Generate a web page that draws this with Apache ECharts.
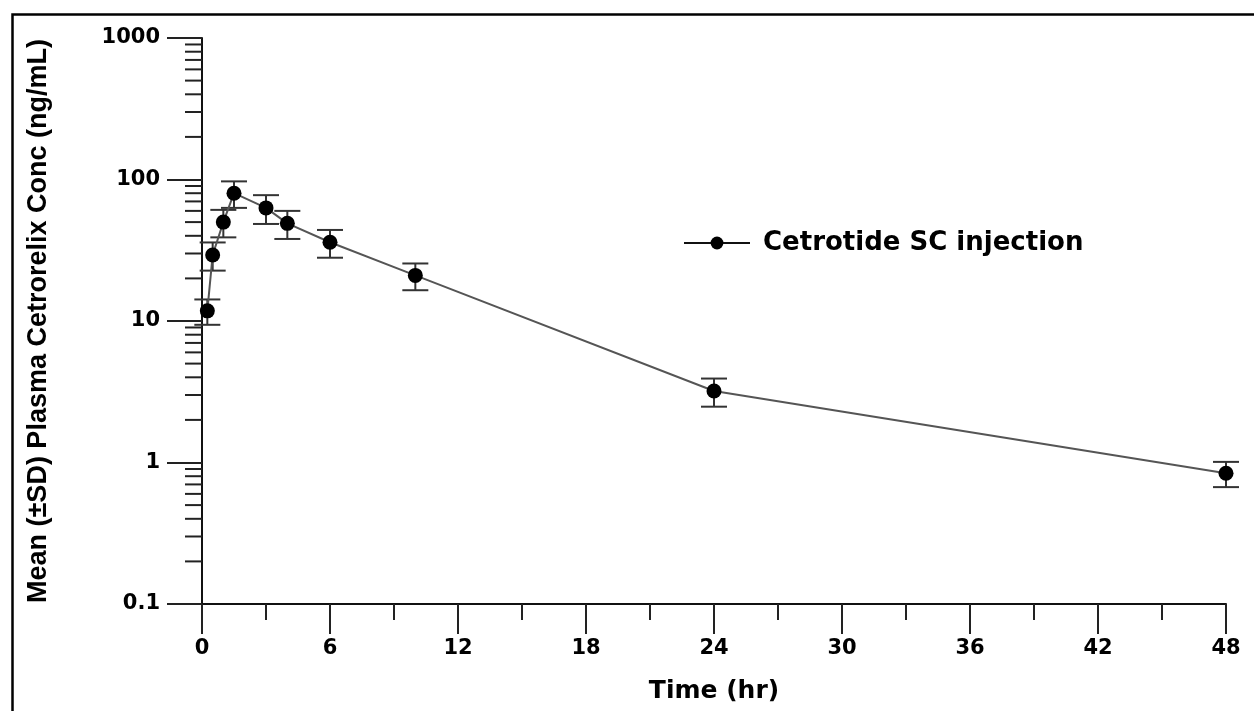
<!DOCTYPE html>
<html>
<head>
<meta charset="utf-8">
<script src="https://cdn.jsdelivr.net/npm/echarts@6/dist/echarts.min.js"></script>
<style>
  html, body { margin: 0; padding: 0; background: #fff; }
  #chart { width: 1254px; height: 711px; }
</style>
</head>
<body>
<div id="chart"></div>
<script>
// sampling times (hr)
const times = [0.25, 0.5, 1, 1.5, 3, 4, 6, 10, 24, 48];
// mean plasma cetrorelix concentration (ng/mL)
const means = [11.8, 29.3, 50, 80, 63, 49, 36, 21, 3.2, 0.84];
// standard deviation
const sds = [2.4, 6.6, 11, 17, 14.5, 11, 8, 4.5, 0.72, 0.17];
// log axis minor tick positions
const minorTicks = [
  0.2, 0.3, 0.4, 0.5, 0.6, 0.7, 0.8, 0.9,
  2, 3, 4, 5, 6, 7, 8, 9,
  20, 30, 40, 50, 60, 70, 80, 90,
  200, 300, 400, 500, 600, 700, 800, 900
];
const seriesName = 'Cetrotide SC injection';

const tickFont = 'DejaVu Sans';

const chart = echarts.init(document.getElementById('chart'));

const option = {
  backgroundColor: '#fff',
  animation: false,
  graphic: [{
    type: 'rect',
    left: 10, top: 12,
    shape: { width: 1400, height: 900 },
    style: { fill: 'none', stroke: '#000', lineWidth: 2.5 },
    silent: true
  }],
  grid: { left: 202, right: 28, top: 38, bottom: 107 },
  legend: {
    data: [seriesName],
    left: 683, top: 230,
    padding: 0,
    itemWidth: 66, itemHeight: 16,
    lineStyle: { color: '#111', width: 2 },
    textStyle: {
      fontFamily: tickFont, fontWeight: 'bold', fontSize: 26, color: '#000',
      padding: [0, 0, 0, 8]
    }
  },
  xAxis: {
    type: 'value',
    min: 0, max: 48, interval: 6,
    name: 'Time (hr)',
    nameLocation: 'middle',
    nameGap: 75,
    nameTextStyle: { fontFamily: tickFont, fontWeight: 'bold', fontSize: 25, color: '#000' },
    axisLine: { lineStyle: { color: '#111', width: 2 } },
    axisTick: { length: 30, lineStyle: { color: '#222', width: 2 } },
    minorTick: { show: true, splitNumber: 2, length: 16, lineStyle: { color: '#222', width: 2 } },
    axisLabel: { margin: 34, fontFamily: tickFont, fontWeight: 'bold', fontSize: 21, color: '#000' },
    splitLine: { show: false }
  },
  yAxis: {
    type: 'log',
    logBase: 10,
    min: 0.1, max: 1000,
    name: 'Mean (±SD) Plasma Cetrorelix Conc (ng/mL)',
    nameLocation: 'middle',
    nameGap: 150,
    nameTextStyle: { fontFamily: 'Liberation Sans', fontWeight: 'bold', fontSize: 27, color: '#000' },
    axisLine: { lineStyle: { color: '#111', width: 2 } },
    axisTick: { length: 35, lineStyle: { color: '#222', width: 2 } },
    axisLabel: {
      margin: 42, fontFamily: tickFont, fontWeight: 'bold', fontSize: 21, color: '#000',
      formatter: v => String(v)
    },
    splitLine: { show: false }
  },
  series: [
    {
      // minor ticks of the log axis
      type: 'custom',
      silent: true,
      clip: false,
      z: 1,
      data: minorTicks.map(v => [0, v]),
      renderItem: function (params, api) {
        const p = api.coord([0, api.value(1)]);
        return {
          type: 'line',
          shape: { x1: p[0] - 17, y1: p[1], x2: p[0], y2: p[1] },
          style: { stroke: '#222', lineWidth: 2 }
        };
      }
    },
    {
      // error bars
      type: 'custom',
      silent: true,
      z: 2,
      data: times.map((t, i) => [t, means[i] - sds[i], means[i] + sds[i]]),
      renderItem: function (params, api) {
        const lo = api.coord([api.value(0), api.value(1)]);
        const hi = api.coord([api.value(0), api.value(2)]);
        const w = 13;
        const st = { stroke: '#333', lineWidth: 2 };
        return {
          type: 'group',
          children: [
            { type: 'line', shape: { x1: lo[0], y1: lo[1], x2: hi[0], y2: hi[1] }, style: st },
            { type: 'line', shape: { x1: lo[0] - w, y1: lo[1], x2: lo[0] + w, y2: lo[1] }, style: st },
            { type: 'line', shape: { x1: hi[0] - w, y1: hi[1], x2: hi[0] + w, y2: hi[1] }, style: st }
          ]
        };
      }
    },
    {
      name: seriesName,
      type: 'line',
      z: 3,
      data: times.map((t, i) => [t, means[i]]),
      symbol: 'circle',
      symbolSize: 15,
      itemStyle: { color: '#000' },
      lineStyle: { color: '#555', width: 2 }
    }
  ]
};

chart.setOption(option);
</script>
</body>
</html>
